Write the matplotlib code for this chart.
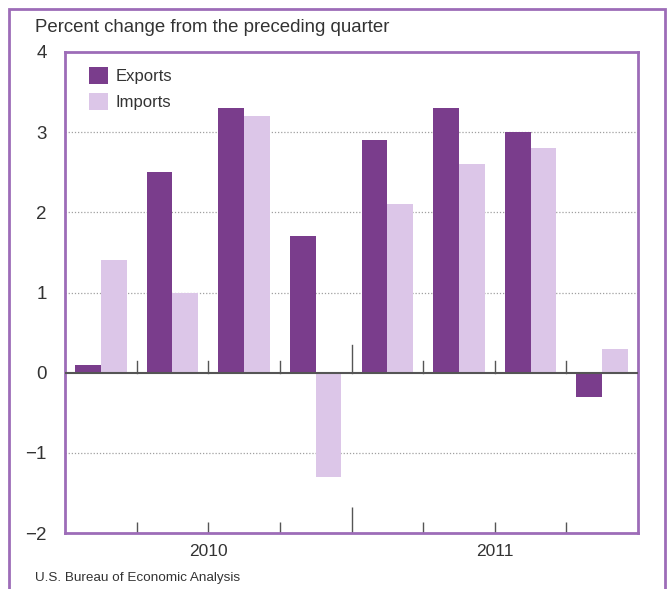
import numpy as np
import matplotlib.pyplot as plt
from matplotlib.patches import Rectangle
import matplotlib.transforms as mtransforms

plt.rcParams['font.family'] = ['Liberation Sans', 'DejaVu Sans']

quarters = ['2010Q1', '2010Q2', '2010Q3', '2010Q4', '2011Q1', '2011Q2', '2011Q3', '2011Q4']
exports = [0.1, 2.5, 3.3, 1.7, 2.9, 3.3, 3.0, -0.3]
imports = [1.4, 1.0, 3.2, -1.3, 2.1, 2.6, 2.8, 0.3]
years = ['2010', '2011']

dark = '#7a3d8c'
light = '#dcc6e8'
frame = '#9d6cb8'
tickc = '#555555'

fig = plt.figure(figsize=(6.72, 5.89), dpi=100)
ax = fig.add_axes([65/672, 56/589, 573/672, 481/589])

x = np.arange(len(quarters))
w = 0.36
ax.bar(x - w/2, exports, w, color=dark, label='Exports', zorder=3)
ax.bar(x + w/2, imports, w, color=light, label='Imports', zorder=3)

ax.set_xlim(-0.5, len(quarters) - 0.5)
ax.set_ylim(-2, 4)
ax.set_yticks([-2, -1, 0, 1, 2, 3, 4])
ax.set_yticklabels(['\u22122', '\u22121', '0', '1', '2', '3', '4'])
ax.tick_params(axis='y', length=0, pad=13, labelsize=13.5, labelcolor='#333333')

for yv in [-1, 1, 2, 3]:
    ax.axhline(yv, color='#a0a0a0', lw=0.9, ls=(0, (1, 1.5)), zorder=1)
ax.axhline(0, color=tickc, lw=1.5, zorder=4)

# tick marks between quarters, on the axis and on the zero line
bounds = x[:-1] + 0.5
ax.set_xticks([3.5])
ax.set_xticks(bounds, minor=True)
ax.set_xticklabels([])
ax.tick_params(axis='x', which='major', direction='in', length=19, width=1, color=tickc)
ax.tick_params(axis='x', which='minor', direction='in', length=8, width=1, color=tickc)
for b in bounds:
    h = 0.34 if b == 3.5 else 0.14
    ax.plot([b, b], [0, h], color=tickc, lw=1, zorder=4)

trans = mtransforms.blended_transform_factory(ax.transData, ax.transAxes)
for i, yr in enumerate(years):
    ax.text(1.5 + 4 * i, -0.022, yr, transform=trans, ha='center', va='top',
            fontsize=12.5, color='#333333')

for s in ax.spines.values():
    s.set_color(frame)
    s.set_linewidth(2)

ax.legend(loc='upper left', bbox_to_anchor=(0.015, 1.0), frameon=False,
          fontsize=12, handlelength=1.15, handleheight=1.15, labelspacing=0.55,
          handletextpad=0.45, labelcolor='#333333')

fig.text(35/672, 1 - 27/589, 'Percent change from the preceding quarter',
         fontsize=13.4, va='center', ha='left', color='#333333')
fig.text(35/672, 1 - 578/589, 'U.S. Bureau of Economic Analysis',
         fontsize=9.7, va='center', ha='left', color='#333333')

fig.patches.append(Rectangle((9/672, -0.05), 656/672, 1.05 - 9/589, transform=fig.transFigure,
                             fill=False, edgecolor=frame, lw=2, clip_on=False))

fig.savefig('out.png', dpi=100)
